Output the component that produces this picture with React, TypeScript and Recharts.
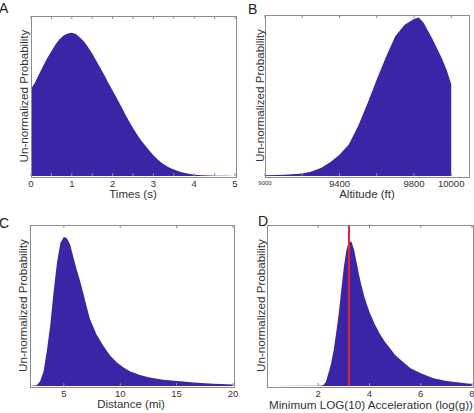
import React from 'react';
import { AreaChart, Area, XAxis, YAxis, ReferenceLine } from 'recharts';

// ---------- Panel A : Times (s) ----------
const aTimes = [0, 0.1, 0.2, 0.3, 0.4, 0.5, 0.6, 0.7, 0.8, 0.9, 1.0, 1.1, 1.2, 1.3, 1.4, 1.5, 1.6, 1.7, 1.8, 1.9, 2.0, 2.1, 2.2, 2.3, 2.4, 2.5, 2.6, 2.7, 2.8, 2.9, 3.0, 3.1, 3.2, 3.3, 3.4, 3.5, 3.6, 3.7, 3.8, 3.9, 4.0, 4.2, 4.4, 4.6, 4.8, 5.0];
const aProb = [0.544, 0.585, 0.637, 0.689, 0.738, 0.78, 0.822, 0.855, 0.878, 0.89, 0.895, 0.887, 0.866, 0.84, 0.805, 0.765, 0.72, 0.675, 0.63, 0.58, 0.535, 0.487, 0.44, 0.39, 0.343, 0.3, 0.26, 0.222, 0.19, 0.16, 0.129, 0.104, 0.083, 0.066, 0.052, 0.04, 0.031, 0.023, 0.017, 0.012, 0.008, 0.005, 0.003, 0.002, 0.001, 0.0005];
const aTicks = [0, 0.5, 1, 1.5, 2, 2.5, 3, 3.5, 4, 4.5, 5];
const aTickLabels = ['0', '', '1', '', '2', '', '3', '', '4', '', '5'];

// ---------- Panel B : Altitude (ft) ----------
const bAltitude = [9000, 9050, 9100, 9150, 9200, 9250, 9300, 9350, 9400, 9450, 9500, 9550, 9600, 9650, 9700, 9750, 9800, 9825, 9850, 9900, 9950, 9975, 10000];
const bProb = [0.004, 0.006, 0.008, 0.011, 0.016, 0.028, 0.05, 0.085, 0.132, 0.195, 0.31, 0.45, 0.6, 0.74, 0.87, 0.94, 0.975, 0.985, 0.955, 0.85, 0.73, 0.66, 0.57];
const bTicks = [9000, 9200, 9400, 9600, 9800, 10000];
const bTickLabels = ['9000', '', '9400', '', '9800', '10000'];
const bSmallTicks = [9000];

// ---------- Panel C : Distance (mi) ----------
const cDistance = [2.0, 2.6, 2.9, 3.2, 3.5, 3.8, 4.1, 4.4, 4.7, 5.0, 5.25, 5.55, 5.85, 6.15, 6.45, 6.75, 7.0, 7.3, 7.6, 7.9, 8.5, 9.1, 9.7, 10.3, 10.9, 11.75, 12.6, 13.8, 15.3, 16.8, 18.3, 20];
const cProb = [0, 0.005, 0.03, 0.09, 0.22, 0.38, 0.59, 0.77, 0.89, 0.925, 0.92, 0.88, 0.8, 0.72, 0.65, 0.57, 0.5, 0.42, 0.37, 0.32, 0.25, 0.19, 0.146, 0.115, 0.09, 0.068, 0.053, 0.039, 0.029, 0.02, 0.014, 0.01];
const cTicks = [5, 10, 15, 20];
const cTickLabels = ['5', '10', '15', '20'];

// ---------- Panel D : Minimum LOG(10) Acceleration ----------
const dAccel = [0, 2.1, 2.2, 2.3, 2.4, 2.5, 2.6, 2.7, 2.8, 2.9, 3.0, 3.1, 3.2, 3.3, 3.4, 3.5, 3.6, 3.7, 3.8, 3.9, 4.0, 4.2, 4.4, 4.6, 4.8, 5.0, 5.3, 5.6, 6.0, 6.5, 7.0, 7.5, 8.0];
const dProb = [0, 0.001, 0.006, 0.027, 0.08, 0.14, 0.22, 0.33, 0.45, 0.6, 0.74, 0.845, 0.9, 0.895, 0.845, 0.765, 0.685, 0.615, 0.555, 0.505, 0.46, 0.385, 0.325, 0.275, 0.234, 0.193, 0.151, 0.11, 0.079, 0.048, 0.031, 0.021, 0.012];
const dTicks = [2, 4, 6, 8];
const dTickLabels = ['2', '4', '6', '8'];
const dMarker = 3.2;

const FILL = '#3a25a6';
const BOX = '#8c8c8c';
const TEXT = '#333333';
const FONT = '"Liberation Sans", Arial, Helvetica, sans-serif';

const toRows = (xs: number[], ys: number[]) => xs.map((x, i) => ({ x, y: ys[i] }));

function makeTick(plotH: number, ticks: number[], labels: string[], small: number[] = []) {
  return (props: any) => {
    const { x, y, payload } = props;
    const v = payload.value;
    const label = labels[ticks.indexOf(v)] || '';
    const isSmall = small.indexOf(v) >= 0;
    return (
      <g>
        <line x1={x} y1={y} x2={x} y2={y - 3} stroke={BOX} strokeWidth={1} />
        <line x1={x} y1={y - plotH} x2={x} y2={y - plotH + 3} stroke={BOX} strokeWidth={1} />
        {label ? (
          <text
            x={x}
            y={y + 7}
            textAnchor="middle"
            dominantBaseline="central"
            fontSize={isSmall ? 6 : 9.5}
            fontFamily={FONT}
            fill={TEXT}
          >
            {label}
          </text>
        ) : null}
      </g>
    );
  };
}

type PanelProps = {
  left: number;
  top: number;
  width: number;
  height: number;
  margin: { top: number; left: number; right: number };
  plotH: number;
  rows: { x: number; y: number }[];
  domain: [number, number];
  ticks: number[];
  labels: string[];
  small?: number[];
  marker?: number;
};

function Panel(p: PanelProps) {
  const axisH = p.height - p.margin.top - p.plotH;
  const plotW = p.width - p.margin.left - p.margin.right;
  return (
    <div style={{ position: 'absolute', left: p.left, top: p.top, width: p.width, height: p.height }}>
      <AreaChart
        width={p.width}
        height={p.height}
        data={p.rows}
        margin={{ top: p.margin.top, left: p.margin.left, right: p.margin.right, bottom: 0 }}
      >
        <XAxis
          type="number"
          dataKey="x"
          domain={p.domain}
          allowDataOverflow
          ticks={p.ticks}
          interval={0}
          tickLine={false}
          axisLine={false}
          tickSize={0}
          tickMargin={0}
          height={axisH}
          tick={makeTick(p.plotH, p.ticks, p.labels, p.small)}
        />
        <YAxis hide domain={[0, 1]} allowDataOverflow type="number" />
        <Area
          type="linear"
          dataKey="y"
          stroke="none"
          fill={FILL}
          fillOpacity={1}
          isAnimationActive={false}
          dot={false}
          activeDot={false}
        />
        {p.marker !== undefined ? (
          <ReferenceLine x={p.marker} stroke="#e3232f" strokeWidth={2} ifOverflow="visible" />
        ) : null}
      </AreaChart>
      <div
        style={{
          position: 'absolute',
          left: p.margin.left - 0.5,
          top: p.margin.top - 0.5,
          width: plotW,
          height: p.plotH,
          border: `1px solid ${BOX}`,
          pointerEvents: 'none',
        }}
      />
    </div>
  );
}

export default function App() {
  const yLabel = 'Un-normalized Probability';
  return (
    <div style={{ position: 'absolute', left: 0, top: 0, width: 474, height: 413, background: '#fff', overflow: 'hidden' }}>
      <Panel
        left={0} top={0} width={240} height={200}
        margin={{ top: 16, left: 31, right: 5 }} plotH={160}
        rows={toRows(aTimes, aProb)} domain={[0, 5]} ticks={aTicks} labels={aTickLabels}
      />
      <Panel
        left={240} top={0} width={234} height={200}
        margin={{ top: 15, left: 25, right: 6 }} plotH={161}
        rows={toRows(bAltitude, bProb)} domain={[9000, 10090]} ticks={bTicks} labels={bTickLabels} small={bSmallTicks}
      />
      <Panel
        left={0} top={205} width={240} height={208}
        margin={{ top: 20, left: 30, right: 7 }} plotH={161}
        rows={toRows(cDistance, cProb)} domain={[2, 20]} ticks={cTicks} labels={cTickLabels}
      />
      <Panel
        left={240} top={205} width={234} height={208}
        margin={{ top: 20, left: 27, right: 2 }} plotH={161}
        rows={toRows(dAccel, dProb)} domain={[0, 8]} ticks={dTicks} labels={dTickLabels} marker={dMarker}
      />
      <svg
        width={474}
        height={413}
        style={{ position: 'absolute', left: 0, top: 0, pointerEvents: 'none' }}
        fontFamily={FONT}
        fill={TEXT}
      >
        <text x={-1} y={13} fontSize={14} fill="#222">A</text>
        <text x={248} y={14} fontSize={14} fill="#222">B</text>
        <text x={-1} y={228} fontSize={14} fill="#222">C</text>
        <text x={258} y={226} fontSize={14} fill="#222">D</text>

        <text x={23} y={96} fontSize={11.6} textAnchor="middle" dominantBaseline="central" transform="rotate(-90 23 96)">{yLabel}</text>
        <text x={259} y={95.5} fontSize={11.6} textAnchor="middle" dominantBaseline="central" transform="rotate(-90 259 95.5)">{yLabel}</text>
        <text x={22} y={305.5} fontSize={11.6} textAnchor="middle" dominantBaseline="central" transform="rotate(-90 22 305.5)">{yLabel}</text>
        <text x={260} y={305.5} fontSize={11.6} textAnchor="middle" dominantBaseline="central" transform="rotate(-90 260 305.5)">{yLabel}</text>

        <text x={133} y={194} fontSize={11.5} textAnchor="middle" dominantBaseline="central">Times (s)</text>
        <text x={367} y={194} fontSize={11.5} textAnchor="middle" dominantBaseline="central">Altitude (ft)</text>
        <text x={131} y={404} fontSize={11.5} textAnchor="middle" dominantBaseline="central">Distance (mi)</text>
        <text x={269} y={404} fontSize={11.7} textAnchor="start" dominantBaseline="central">Minimum LOG(10) Acceleration (log(g))</text>
      </svg>
    </div>
  );
}
